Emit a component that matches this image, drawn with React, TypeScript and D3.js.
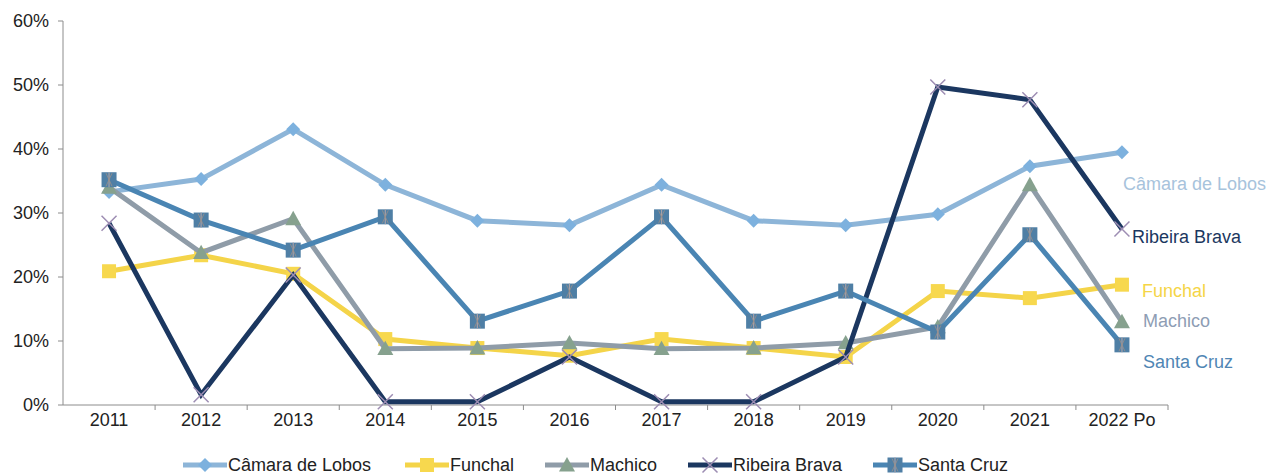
import * as d3 from 'd3';

const years = ['2011', '2012', '2013', '2014', '2015', '2016', '2017', '2018', '2019', '2020', '2021', '2022 Po'];
const yTicks = [0, 0.1, 0.2, 0.3, 0.4, 0.5, 0.6];

const camaraDeLobos = [33.3, 35.3, 43.1, 34.4, 28.8, 28.1, 34.4, 28.8, 28.1, 29.8, 37.3, 39.5];
const funchal = [20.9, 23.4, 20.5, 10.3, 8.9, 7.7, 10.3, 8.9, 7.5, 17.8, 16.7, 18.8];
const machico = [34.0, 23.8, 29.1, 8.8, 8.9, 9.7, 8.8, 8.9, 9.7, 12.2, 34.4, 13.0];
const ribeiraBrava = [28.4, 1.6, 20.3, 0.5, 0.5, 7.5, 0.5, 0.5, 7.5, 49.7, 47.7, 27.5];
const santaCruz = [35.2, 28.9, 24.2, 29.4, 13.1, 17.8, 29.4, 13.1, 17.8, 11.4, 26.6, 9.4];

type Series = {
  name: string;
  values: number[];
  line: string;
  marker: string;
  shape: 'diamond' | 'square' | 'triangle' | 'x' | 'sqx';
  label: string;
  labelX: number;
  labelY: number;
  legendX: number;
};

const series: Series[] = [
  { name: 'Câmara de Lobos', values: camaraDeLobos, line: '#8DB5D8', marker: '#7DB1DE', shape: 'diamond', label: '#A7C3DC', labelX: 1123, labelY: 190, legendX: 183 },
  { name: 'Funchal', values: funchal, line: '#F4D449', marker: '#F7D84E', shape: 'square', label: '#F5D547', labelX: 1142, labelY: 297, legendX: 405 },
  { name: 'Machico', values: machico, line: '#8F9CA8', marker: '#86A18E', shape: 'triangle', label: '#8E9DB4', labelX: 1143, labelY: 327, legendX: 545 },
  { name: 'Ribeira Brava', values: ribeiraBrava, line: '#1B3760', marker: '#9D8DB3', shape: 'x', label: '#1B3760', labelX: 1132, labelY: 243, legendX: 688 },
  { name: 'Santa Cruz', values: santaCruz, line: '#4A85B3', marker: '#4F7FA5', shape: 'sqx', label: '#4F86B4', labelX: 1143, labelY: 368, legendX: 873 },
];

const W = 1271;
const H = 474;
const left = 63;
const right = 1168;
const top = 21;
const bottom = 405;

const x = d3.scaleBand<string>().domain(years).range([left, right]);
const y = d3.scaleLinear().domain([0, 0.6]).range([bottom, top]);
const fmt = d3.format('.0%');

const font = '"Liberation Sans", Arial, sans-serif';
const fontSize = 18;

function Marker({ shape, cx, cy, color }: { shape: Series['shape']; cx: number; cy: number; color: string }) {
  if (shape === 'diamond') {
    const r = 7;
    return <path d={`M${cx},${cy - r}L${cx + r},${cy}L${cx},${cy + r}L${cx - r},${cy}Z`} fill={color} />;
  }
  if (shape === 'square') {
    const r = 7;
    return <rect x={cx - r} y={cy - r} width={2 * r} height={2 * r} fill={color} />;
  }
  if (shape === 'triangle') {
    const r = 8;
    return <path d={`M${cx},${cy - r}L${cx + r},${cy + r * 0.8}L${cx - r},${cy + r * 0.8}Z`} fill={color} />;
  }
  if (shape === 'x') {
    const r = 7.5;
    return (
      <path
        d={`M${cx - r},${cy - r}L${cx + r},${cy + r}M${cx - r},${cy + r}L${cx + r},${cy - r}`}
        stroke={color}
        strokeWidth={1.5}
        fill="none"
      />
    );
  }
  const r = 7.5;
  return (
    <g>
      <rect x={cx - r} y={cy - r} width={2 * r} height={2 * r} fill={color} />
      <path d={`M${cx},${cy - r}L${cx},${cy + r}`} stroke="#A6A0A8" strokeWidth={1.2} />
      <path d={`M${cx - 3},${cy - r + 1}L${cx + 3},${cy + r - 1}M${cx - 3},${cy + r - 1}L${cx + 3},${cy - r + 1}`} stroke="#9C8F88" strokeWidth={0.8} />
    </g>
  );
}

export default function App() {
  const cx = (i: number) => (x(years[i]) ?? 0) + x.bandwidth() / 2;
  const line = d3
    .line<number>()
    .x((_, i) => cx(i))
    .y((d) => y(d / 100));

  const legendY = 465;

  return (
    <svg
      width={W}
      height={H}
      style={{ position: 'absolute', left: 0, top: 0, background: '#fff' }}
      fontFamily={font}
    >
      {/* y axis */}
      <line x1={left} x2={left} y1={top} y2={bottom} stroke="#8C8C8C" />
      {yTicks.map((t) => (
        <g key={t}>
          <line x1={left - 5} x2={left} y1={y(t)} y2={y(t)} stroke="#8C8C8C" />
          <text x={left - 14} y={y(t)} dy="0.35em" textAnchor="end" fontSize={fontSize} fill="#222">
            {fmt(t)}
          </text>
        </g>
      ))}

      {/* x axis */}
      <line x1={left} x2={right} y1={bottom} y2={bottom} stroke="#8C8C8C" />
      {years.map((yr, i) => (
        <g key={yr}>
          <line x1={x(yr)! + x.bandwidth()} x2={x(yr)! + x.bandwidth()} y1={bottom} y2={bottom + 5} stroke="#8C8C8C" />
          <text x={cx(i)} y={bottom + 21} textAnchor="middle" fontSize={fontSize} fill="#222">
            {yr}
          </text>
        </g>
      ))}

      {/* series, drawn in legend order */}
      {series.map((s) => (
        <g key={s.name}>
          <path d={line(s.values) ?? ''} fill="none" stroke={s.line} strokeWidth={5} strokeLinejoin="miter" />
          {s.values.map((v, i) => (
            <Marker key={i} shape={s.shape} cx={cx(i)} cy={y(v / 100)} color={s.marker} />
          ))}
        </g>
      ))}

      {/* labels at the right end */}
      {series.map((s) => (
        <text key={s.name} x={s.labelX} y={s.labelY} fontSize={fontSize} fill={s.label}>
          {s.name}
        </text>
      ))}

      {/* legend */}
      {series.map((s) => (
        <g key={s.name}>
          <line x1={s.legendX} x2={s.legendX + 44} y1={legendY} y2={legendY} stroke={s.line} strokeWidth={5} />
          <Marker shape={s.shape} cx={s.legendX + 22} cy={legendY} color={s.marker} />
          <text x={s.legendX + 45} y={legendY} dy="0.35em" fontSize={fontSize} fill="#222">
            {s.name}
          </text>
        </g>
      ))}
    </svg>
  );
}
